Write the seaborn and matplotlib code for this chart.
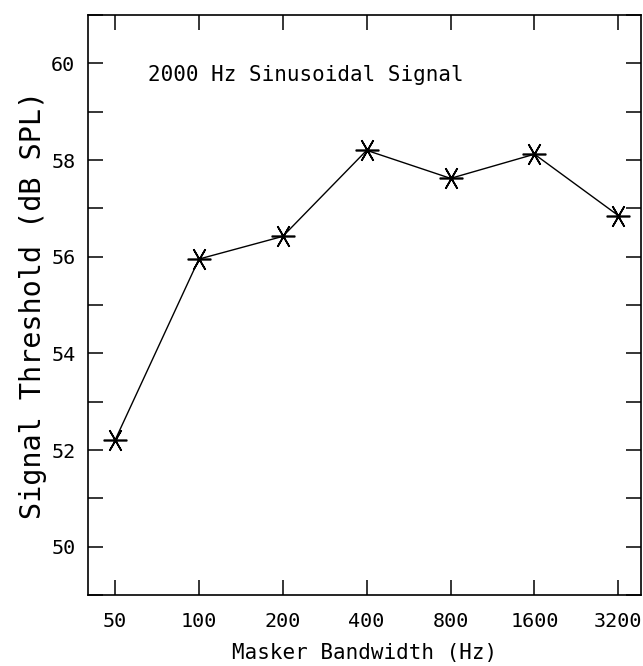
import matplotlib
matplotlib.use("Agg")
import matplotlib.pyplot as plt
from matplotlib.ticker import FixedLocator, MultipleLocator, NullLocator
import numpy as np
import pandas as pd
import seaborn as sns

# Masker bandwidths (Hz) and measured thresholds (dB SPL)
bandwidths = [50, 100, 200, 400, 800, 1600, 3200]
thresholds = [52.2, 55.95, 56.42, 58.2, 57.62, 58.12, 56.85]
tick_labels = ["50", "100", "200", "400", "800", "1600", "3200"]
y_ticks = [50, 52, 54, 56, 58, 60]

sns.set_theme(style="ticks")
plt.rcParams["font.family"] = ["DejaVu Sans Mono", "DejaVu Sans"]

df = pd.DataFrame({"bandwidth": bandwidths, "threshold": thresholds})

fig = plt.figure(figsize=(6.43, 6.66), dpi=100)
ax = fig.add_axes([88 / 643, 1 - 595 / 666, (641 - 88) / 643, (595 - 15) / 666])

sns.lineplot(
    data=df, x="bandwidth", y="threshold", ax=ax,
    color="black", linewidth=1.0,
    marker=(6, 2, 30), markersize=17, markeredgewidth=1.2,
    markeredgecolor="black",
)

# octave-spaced axis
ax.set_xscale("log", base=2)
ax.set_xlim(50 * 2 ** -0.322, 50 * 2 ** 6.27)
ax.set_ylim(49, 61)

ax.xaxis.set_major_locator(FixedLocator(bandwidths))
ax.xaxis.set_minor_locator(NullLocator())
ax.set_xticklabels(tick_labels)
ax.yaxis.set_major_locator(FixedLocator(y_ticks))
ax.yaxis.set_minor_locator(MultipleLocator(1))

ax.tick_params(axis="both", which="both", direction="in", length=11,
               width=1.1, color="black", top=True, right=True,
               labelsize=14.5, labelcolor="black")
ax.tick_params(axis="x", pad=12)
ax.tick_params(axis="y", pad=9)

for sp in ax.spines.values():
    sp.set_visible(True)
    sp.set_linewidth(1.2)
    sp.set_color("black")

ax.set_xlabel("Masker Bandwidth (Hz)", fontsize=15, labelpad=9, color="black")
ax.set_ylabel("Signal Threshold (dB SPL)", fontsize=20.5, labelpad=3, color="black")

ax.text(50 * 2 ** 0.394, 59.75, "2000 Hz Sinusoidal Signal",
        fontsize=15, ha="left", va="center", color="black")

fig.savefig("out.png", dpi=100)
